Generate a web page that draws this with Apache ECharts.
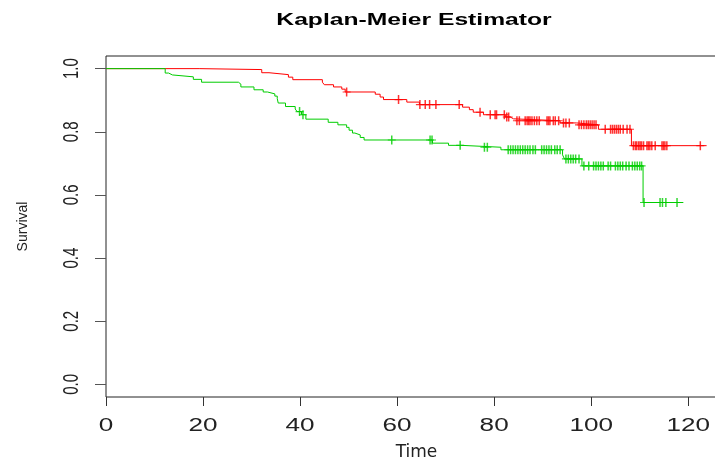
<!DOCTYPE html>
<html>
<head>
<meta charset="utf-8">
<script src="https://cdn.jsdelivr.net/npm/echarts@6/dist/echarts.min.js"></script>
<style>
  html, body { margin: 0; padding: 0; background: #ffffff; }
  #chart { width: 715px; height: 459px; }
</style>
</head>
<body>
<div id="chart"></div>
<script>
// Axis ticks
const xTicks = [0, 20, 40, 60, 80, 100, 120];
const yTicks = [0, 0.2, 0.4, 0.6, 0.8, 1.0];

// Group 1 (red): event times and survival estimate after each event
const redTimes = [0, 19.2, 32.1, 33.6, 37.6, 38.5, 44.6, 45.0, 46.9, 48.6, 49.3,
  55.5, 56.5, 57.2, 62.0, 64.6, 73.5, 74.9, 75.7, 77.8, 82.3, 83.3, 84.0,
  93.6, 97.0, 101.5, 108.3, 123.8];
const redSurv = [1.0, 0.997, 0.987, 0.981, 0.973, 0.965, 0.957, 0.949, 0.942, 0.935, 0.926,
  0.919, 0.910, 0.902, 0.894, 0.886, 0.878, 0.870, 0.862, 0.854, 0.847, 0.841, 0.835,
  0.828, 0.822, 0.808, 0.756, 0.756];
// Group 1 censoring times
const redCensor = [49.6, 60.3, 64.7, 65.8, 66.7, 68.0, 72.8, 77.1, 79.2, 80.2, 80.5,
  82.1, 82.6, 83.0, 84.7, 85.2, 86.4, 86.8, 87.1, 87.4, 87.8, 88.3, 88.8, 89.3,
  90.9, 91.2, 91.5, 92.2, 92.6, 93.3, 94.3, 94.8, 95.5, 97.5, 98.0, 98.5, 99.0,
  99.4, 99.8, 100.2, 100.6, 101.0, 102.9, 104.0, 104.4, 104.8, 105.2, 105.6, 106.0,
  106.6, 107.4, 108.0, 108.7, 109.1, 109.4, 109.8, 110.1, 110.4, 110.8, 111.5,
  111.8, 112.1, 112.5, 113.2, 114.6, 114.9, 115.2, 115.6, 122.5];

// Group 2 (green): event times and survival estimate after each event
const greenTimes = [0, 12.2, 12.9, 13.7, 18.0, 19.7, 27.3, 27.8, 30.5, 32.4, 33.3,
  34.8, 35.3, 35.5, 37.0, 39.0, 39.4, 40.3, 41.2, 45.8, 47.8, 49.6, 50.1, 50.8,
  51.3, 52.4, 53.2, 67.3, 70.6, 73.3, 81.4, 94.1, 94.5, 98.1, 110.7, 119.0];
const greenSurv = [1.0, 0.986, 0.980, 0.974, 0.966, 0.957, 0.951, 0.942, 0.933, 0.926, 0.920,
  0.913, 0.905, 0.891, 0.880, 0.872, 0.864, 0.854, 0.840, 0.830, 0.822, 0.814, 0.805, 0.796,
  0.790, 0.782, 0.774, 0.764, 0.757, 0.751, 0.743, 0.727, 0.714, 0.692, 0.576, 0.576];
// Group 2 censoring times
const greenCensor = [39.9, 40.6, 58.9, 66.8, 67.2, 73.0, 78.0, 78.6, 82.9, 83.4, 83.9,
  84.4, 84.9, 85.4, 85.9, 86.4, 86.9, 87.4, 88.0, 88.5, 89.8, 90.3, 90.8, 91.3,
  91.8, 92.5, 93.0, 93.6, 94.8, 95.3, 95.8, 96.3, 96.8, 97.5, 98.5, 99.5, 100.5,
  101.0, 101.5, 102.0, 102.5, 103.5, 104.0, 105.0, 105.5, 106.0, 106.5, 107.2,
  107.8, 108.5, 109.0, 109.5, 110.0, 110.4, 110.9, 114.2, 114.7, 115.4, 117.7];

const RED = '#ff0000';
const GREEN = '#00cd00';
const FONT = 'Liberation Sans, Arial, sans-serif';
const Y_MIN = -0.04;

// Step-function value of a survival curve at time t
function levelAt(times, surv, t) {
  let v = surv[0];
  for (let i = 0; i < times.length; i++) {
    if (times[i] <= t) v = surv[i]; else break;
  }
  return v;
}

function curve(times, surv) {
  return times.map((t, i) => [t, surv[i]]);
}

function censorMarks(censor, times, surv) {
  return censor.map(t => [t, levelAt(times, surv, t)]);
}

// "+" mark drawn as two thin filled bars
const PLUS = 'path://M3.25,0h1.5v8h-1.5z M0,3.5h8v1h-8z';

const chart = echarts.init(document.getElementById('chart'), null, { renderer: 'canvas' });

chart.setOption({
  animation: false,
  backgroundColor: '#ffffff',
  graphic: [
    {
      type: 'text',
      id: 'title',
      x: 414, y: 12,
      scaleX: 1.45,
      silent: true,
      style: {
        text: 'Kaplan-Meier Estimator',
        font: 'bold 17px Liberation Sans, Arial, sans-serif',
        fill: '#000',
        align: 'center',
        verticalAlign: 'top'
      }
    }
  ],
  grid: {
    left: 106, top: 56, width: 621, bottom: 62,
    containLabel: false,
    outerBoundsMode: 'none',
    show: true, borderColor: '#222', borderWidth: 1, backgroundColor: 'transparent'
  },
  xAxis: {
    type: 'value',
    min: 0, max: 128,
    name: 'Time',
    nameLocation: 'middle',
    nameGap: 47,
    nameMoveOverlap: false,
    nameTextStyle: { fontFamily: 'DejaVu Sans, sans-serif', fontSize: 17, color: '#222' },
    axisLine: { show: false, onZero: false },
    splitLine: { show: false },
    axisTick: { show: true, inside: false, length: 9, customValues: xTicks,
      lineStyle: { color: '#333', width: 1 } },
    axisLabel: { show: false }
  },
  yAxis: {
    type: 'value',
    min: Y_MIN, max: 1.04,
    name: 'Survival',
    nameLocation: 'middle',
    nameGap: 76,
    nameRotate: 90,
    nameMoveOverlap: false,
    nameTextStyle: { fontFamily: FONT, fontSize: 14, color: '#222' },
    axisLine: { show: false, onZero: false },
    splitLine: { show: false },
    axisTick: { show: true, inside: false, length: 11, customValues: yTicks,
      lineStyle: { color: '#555', width: 1 } },
    axisLabel: { show: false }
  },
  series: [
    {
      name: 'red', type: 'line', step: 'end', showSymbol: false, silent: true,
      data: curve(redTimes, redSurv),
      lineStyle: { color: RED, width: 1 }, itemStyle: { color: RED }
    },
    {
      name: 'red censored', type: 'scatter', silent: true,
      symbol: PLUS, symbolSize: [8, 9],
      data: censorMarks(redCensor, redTimes, redSurv),
      itemStyle: { color: RED }
    },
    {
      name: 'green', type: 'line', step: 'end', showSymbol: false, silent: true,
      data: curve(greenTimes, greenSurv),
      lineStyle: { color: GREEN, width: 1 }, itemStyle: { color: GREEN }
    },
    {
      name: 'green censored', type: 'scatter', silent: true,
      symbol: PLUS, symbolSize: [8, 9],
      data: censorMarks(greenCensor, greenTimes, greenSurv),
      itemStyle: { color: GREEN }
    }
  ]
});

// Tick labels placed at the axis positions, in the wide lettering of the plot
const labelEls = [];
xTicks.forEach((v, i) => {
  const p = chart.convertToPixel({ gridIndex: 0 }, [v, Y_MIN]);
  labelEls.push({
    type: 'text', id: 'xl' + i, silent: true,
    x: p[0], y: p[1] + 29, scaleX: 1.45,
    style: { text: String(v), font: '18px ' + FONT, fill: '#222',
      align: 'center', verticalAlign: 'middle' }
  });
});
yTicks.forEach((v, i) => {
  const p = chart.convertToPixel({ gridIndex: 0 }, [0, v]);
  labelEls.push({
    type: 'text', id: 'yl' + i, silent: true,
    x: p[0] - 34, y: p[1], rotation: Math.PI / 2, scaleY: 1.5,
    style: { text: v.toFixed(1), font: '15px ' + FONT, fill: '#222',
      align: 'center', verticalAlign: 'middle' }
  });
});
chart.setOption({ graphic: labelEls });
</script>
</body>
</html>
